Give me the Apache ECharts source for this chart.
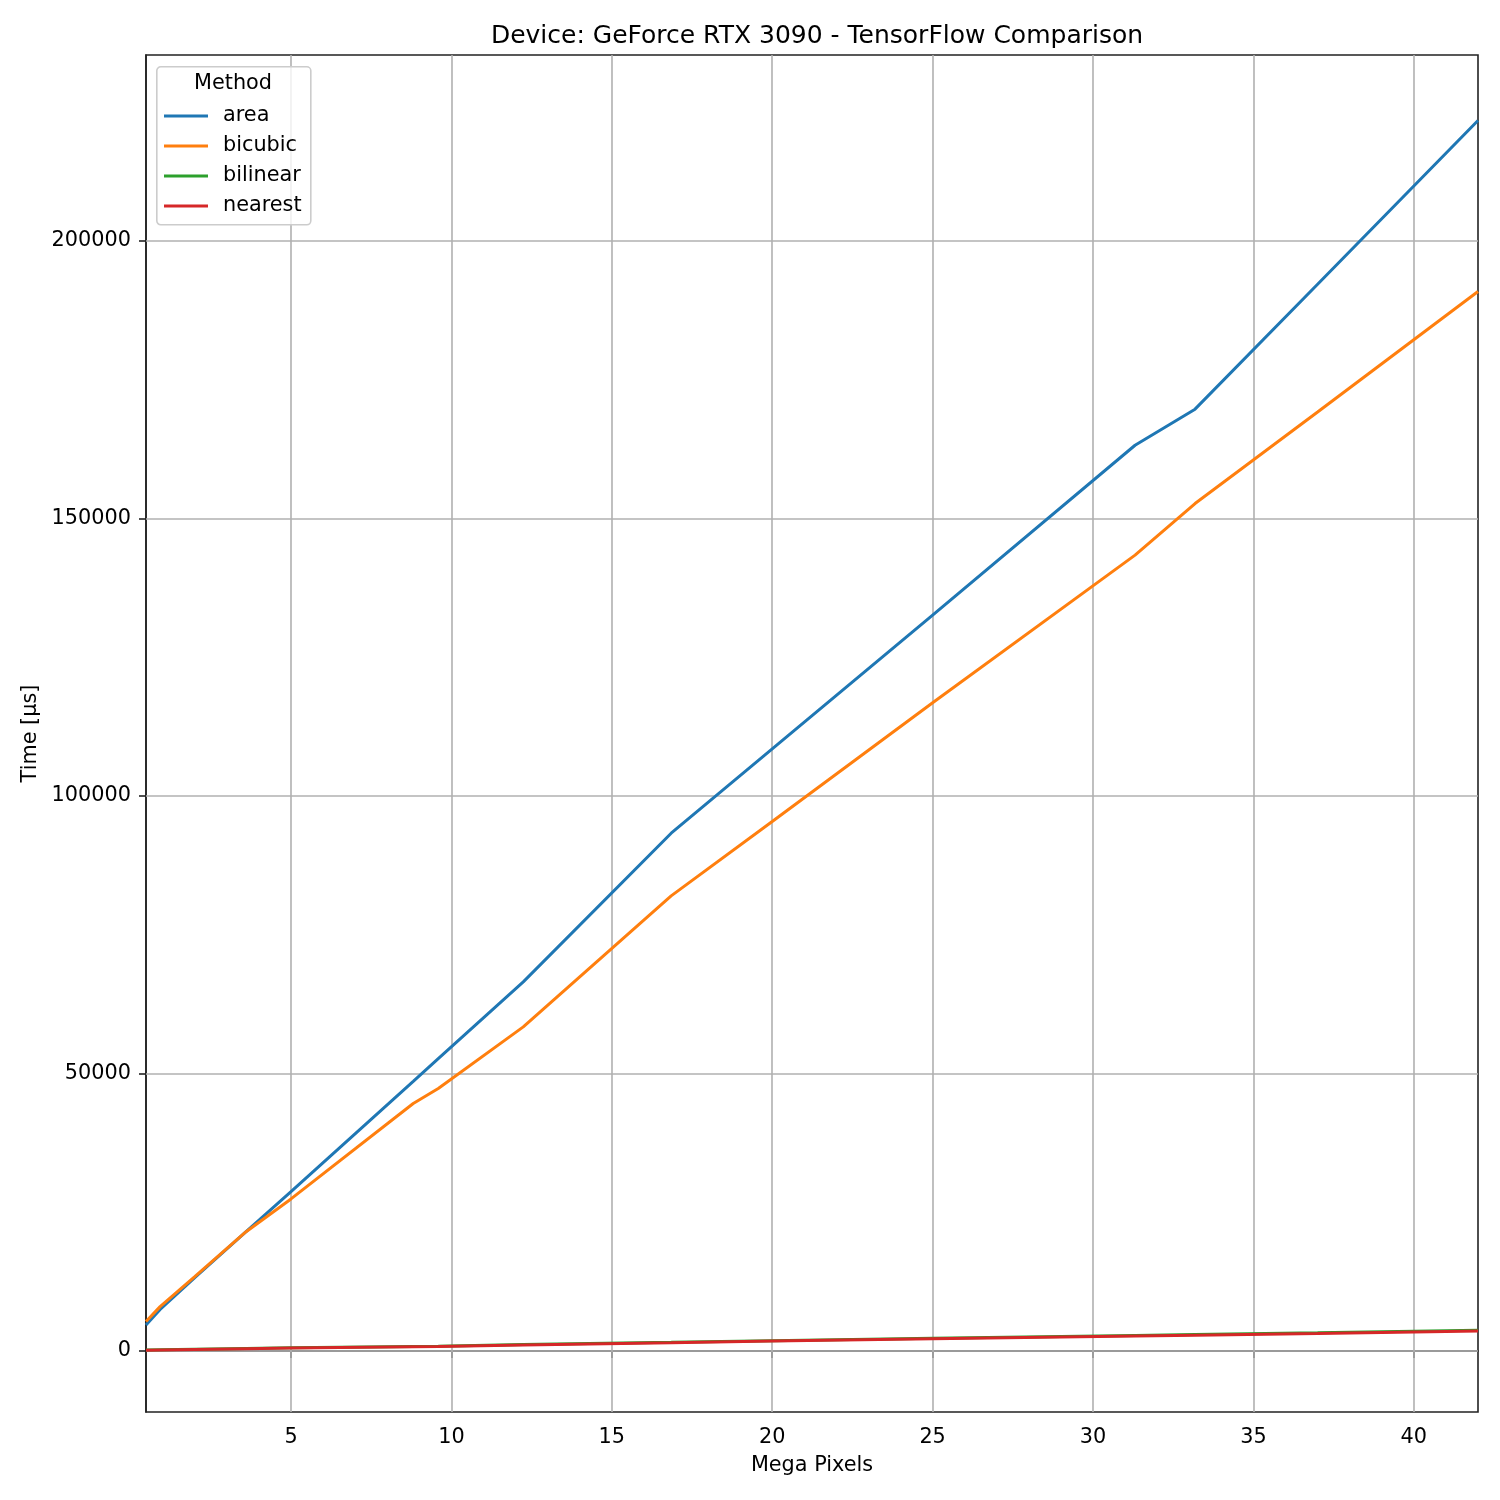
<!DOCTYPE html>
<html>
<head>
<meta charset="utf-8">
<script src="https://cdn.jsdelivr.net/npm/echarts@6/dist/echarts.min.js"></script>
<style>html,body{margin:0;padding:0;background:#fff}#c{width:1500px;height:1500px}</style>
</head>
<body>
<div id="c"></div>
<script>
const megaPixels = [0.48, 0.92, 2.0, 3.6, 5.0, 8.81, 9.59, 12.24, 16.85, 20, 25, 31.31, 33.18, 37, 42.0];
const areaTime = [4700, 7500, 13200, 21500, 28700, 48600, 52700, 66500, 93300, 108500, 132600, 163200, 169700, 192200, 221700];
const bicubicTime = [5300, 8000, 13400, 21500, 27400, 44600, 47300, 58400, 82000, 95400, 116800, 143400, 152700, 169200, 190900];
const bilinearTime = [180, 220, 320, 470, 600, 830, 870, 1150, 1560, 1860, 2290, 2800, 2960, 3270, 3720];
const nearestTime = [150, 190, 280, 420, 540, 760, 800, 1080, 1480, 1780, 2200, 2700, 2850, 3150, 3600];
const methods = ['area', 'bicubic', 'bilinear', 'nearest'];
const xTicks = [5, 10, 15, 20, 25, 30, 35, 40];
const yTicks = [0, 50000, 100000, 150000, 200000];

const colors = ['#1f77b4', '#ff7f0e', '#2ca02c', '#d62728'];
const seriesValues = [areaTime, bicubicTime, bilinearTime, nearestTime];
const FONT = 'DejaVu Sans';
const FS = 20.8;
const chart = echarts.init(document.getElementById('c'));

const gridMarks = [];
yTicks.forEach(v => gridMarks.push({yAxis: v}));
xTicks.forEach(v => gridMarks.push({xAxis: v}));

const series = [{
  name: '_grid', type: 'line', data: [], z: 1, silent: true,
  markLine: {silent: true, symbol: 'none', label: {show: false},
    lineStyle: {color: '#b0b0b0', width: 1.6, type: 'solid'}, data: gridMarks, animation: false}
}];
methods.forEach((m, i) => {
  series.push({
    name: m, type: 'line', z: 5 + i,
    data: megaPixels.map((x, j) => [x, seriesValues[i][j]]),
    showSymbol: false, symbol: 'none',
    lineStyle: {color: colors[i], width: 3},
    itemStyle: {color: colors[i]},
    animation: false
  });
});

chart.setOption({
  animation: false,
  backgroundColor: '#fff',
  title: {text: 'Device: GeForce RTX 3090 - TensorFlow Comparison', left: 812, top: 19, textAlign: 'center',
    textStyle: {fontFamily: FONT, fontSize: 25, fontWeight: 'normal', color: '#000'}},
  grid: {left: 146, right: 22, top: 55, bottom: 88, show: true, borderColor: '#222', borderWidth: 1.6, backgroundColor: 'transparent'},
  xAxis: {type: 'value', min: 0.48, max: 42.0,
    name: 'Mega Pixels', nameLocation: 'middle', nameGap: 43,
    nameTextStyle: {fontFamily: FONT, fontSize: FS, color: '#000'},
    axisLine: {show: true, lineStyle: {color: '#222', width: 1.6}},
    axisTick: {show: true, length: 7, lineStyle: {color: '#222', width: 1.6}, customValues: xTicks},
    axisLabel: {customValues: xTicks, fontFamily: FONT, fontSize: FS, color: '#000', margin: 15},
    splitLine: {show: false}},
  yAxis: {type: 'value', min: -10991, max: 233514,
    name: 'Time [µs]', nameLocation: 'middle', nameGap: 101, nameRotate: 90,
    nameTextStyle: {fontFamily: FONT, fontSize: FS, color: '#000'},
    axisLine: {show: true, lineStyle: {color: '#222', width: 1.6}},
    axisTick: {show: true, length: 7, lineStyle: {color: '#222', width: 1.6}, customValues: yTicks},
    axisLabel: {customValues: yTicks, fontFamily: FONT, fontSize: FS, color: '#000', margin: 15, formatter: v => String(v)},
    splitLine: {show: false}},
  legend: {data: methods, orient: 'vertical', left: 164, top: 105, icon: 'rect', itemWidth: 44, itemHeight: 3,
    itemGap: 8, z: 10, padding: 0,
    textStyle: {fontFamily: FONT, fontSize: FS, color: '#000', lineHeight: 22, padding: [0, 0, 0, 10]}},
  graphic: [
    {type: 'rect', left: 156, top: 66, z: 8, shape: {width: 154, height: 158, r: 4},
      style: {fill: 'rgba(255,255,255,0.8)', stroke: '#cccccc', lineWidth: 1.6}},
    {type: 'text', z: 9, x: 233, y: 84, style: {text: 'Method', font: '20.8px "DejaVu Sans"', fill: '#000', align: 'center', verticalAlign: 'middle'}}
  ],
  series: series
});
</script>
</body>
</html>
